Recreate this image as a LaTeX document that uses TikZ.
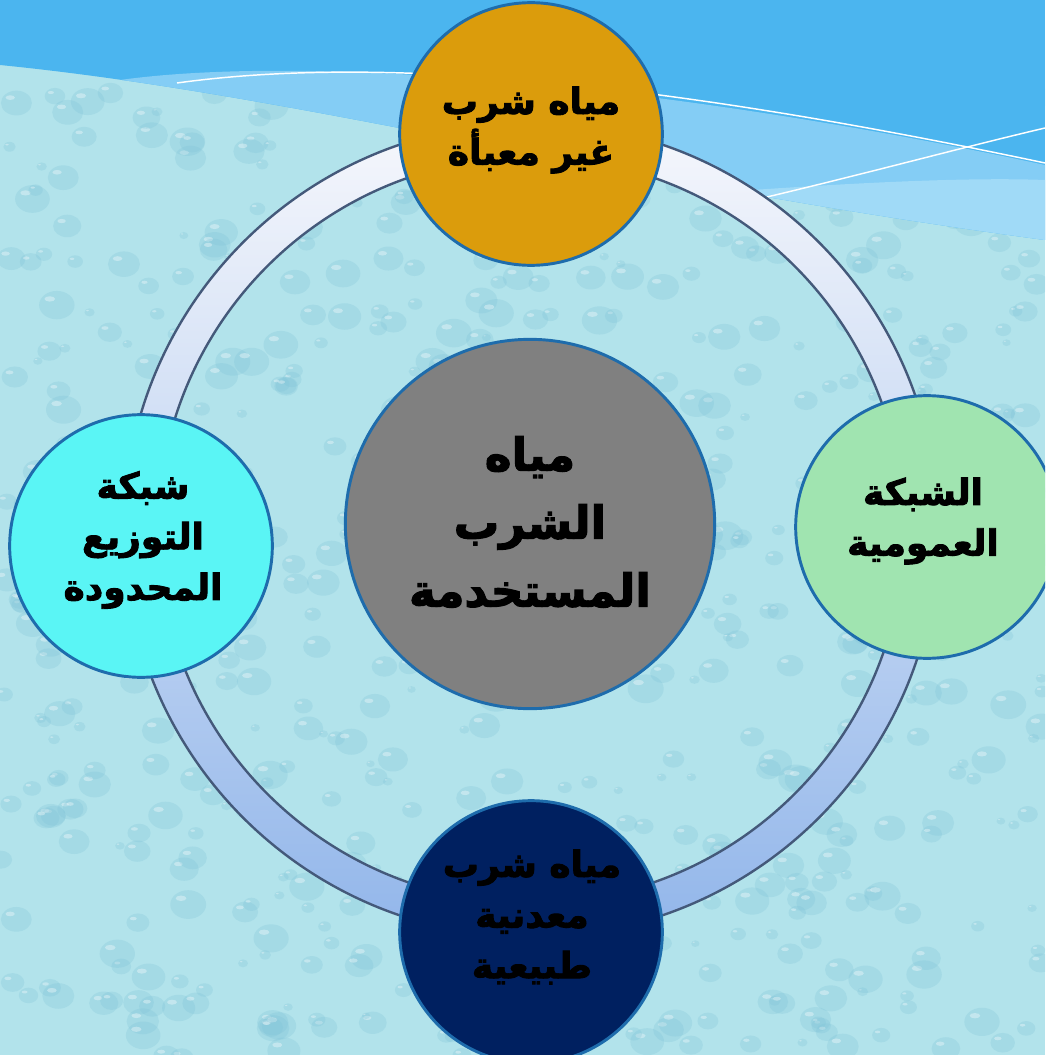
\documentclass[tikz,border=0pt]{standalone}
\usepackage{fontspec}
\newfontfamily\arabicfont[Script=Arabic, BoldFeatures={FakeBold=2.5}]{DejaVu Sans}
\TeXXeTstate=1

\definecolor{skyband}{RGB}{75,181,239}
\definecolor{skystreak}{RGB}{132,205,245}
\definecolor{skylight}{RGB}{160,218,247}
\definecolor{dropbg}{RGB}{178,227,235}
\definecolor{dropshade}{RGB}{128,196,216}
\definecolor{ringtop}{RGB}{246,247,252}
\definecolor{ringbottom}{RGB}{146,182,234}
\definecolor{ringedge}{RGB}{68,89,122}
\definecolor{rimblue}{RGB}{30,108,172}
\definecolor{gold}{RGB}{219,156,12}
\definecolor{mint}{RGB}{160,228,176}
\definecolor{navy}{RGB}{0,32,96}
\definecolor{aqua}{RGB}{90,245,245}
\definecolor{hubgray}{RGB}{128,128,128}

\tikzset{every picture/.style={line width=0.75pt},
  bubble/.style={circle, draw=rimblue, line width=2.2pt, inner sep=0pt, minimum size=197pt},
  hub/.style={bubble, minimum size=277pt, fill=hubgray},
  label text/.style={font=\arabicfont\bfseries\fontsize{27}{38}\selectfont, align=center, text=black, inner sep=0.75pt},
  hub text/.style={label text, font=\arabicfont\bfseries\fontsize{34}{51}\selectfont}}

\begin{document}
\begin{tikzpicture}[x=0.75pt,y=0.75pt,yscale=-1,xscale=1]
	\useasboundingbox (0,0) rectangle (1045,1055);
	\clip (0,0) rectangle (1045,1055);
	
	%Shape: Rectangle [background]
	\fill [dropbg] (0,0) rectangle (1045,1055);
	%Shape: Drops
	\pgfmathsetseed{12}
	\foreach \i in {1,...,650}{
		\pgfmathsetmacro{\dropx}{rnd*1045}
		\pgfmathsetmacro{\dropy}{40+rnd*1020}
		\pgfmathsetmacro{\dropr}{4+rnd*14}
		\fill [dropshade, opacity=0.28] (\dropx,\dropy) ellipse ({\dropr} and {0.8*\dropr});
		\fill [white, opacity=0.35] (\dropx-0.4*\dropr,\dropy-0.35*\dropr) ellipse ({0.3*\dropr} and {0.15*\dropr});
	}
	
	%Shape: Sky band
	\begin{scope}
		\clip (0,0) -- (0,65) .. controls (300,95) and (600,180) .. (1045,240) -- (1045,0) -- cycle;
		\fill [skyband] (0,0) rectangle (1045,260);
		\fill [skystreak] (120,80) .. controls (300,55) and (650,80) .. (1045,165) -- (1045,260) -- (120,260) -- cycle;
		\fill [skylight] (560,260) -- (560,205) .. controls (760,188) and (940,176) .. (1045,180) -- (1045,260) -- cycle;
	\end{scope}
	%Straight Lines [white streaks]
	\draw [white, line width=1.1pt] (177,83) .. controls (400,52) and (700,90) .. (1045,163);
	\draw [white, line width=1.1pt] (767,197) .. controls (880,170) and (960,148) .. (1045,128);
	
	%Shape: Ring
	\coordinate (ring) at (531,530);
	\shade [even odd rule, top color=ringtop, bottom color=ringbottom] (ring) circle (407) (ring) circle (373);
	\draw [ringedge, line width=1.8pt] (ring) circle (407);
	\draw [ringedge, line width=1.8pt] (ring) circle (373);
	
	%Shape: Circles
	\node [hub] (hub) at (530,524) {};
	\node [bubble, fill=gold] (unbottled) at (531,134) {};
	\node [bubble, fill=mint] (public) at (927,527) {};
	\node [bubble, fill=navy] (mineral) at (531,932) {};
	\node [bubble, fill=aqua] (limited) at (141,546) {};
	
	% Text Node
	\node [hub text] (hub label) at (530,522) {\beginR مياه\endR\\\beginR الشرب\endR\\\beginR المستخدمة\endR};
	% Text Node
	\node [label text] (unbottled label) at (531,130) {\beginR مياه شرب\endR\\\beginR غير معبأة\endR};
	% Text Node
	\node [label text] (public label) at (923,521) {\beginR الشبكة\endR\\\beginR العمومية\endR};
	% Text Node
	\node [label text] (mineral label) at (532,917) {\beginR مياه شرب\endR\\\beginR معدنية\endR\\\beginR طبيعية\endR};
	% Text Node
	\node [label text] (limited label) at (143,540) {\beginR شبكة\endR\\\beginR التوزيع\endR\\\beginR المحدودة\endR};
	
\end{tikzpicture}
\end{document}
